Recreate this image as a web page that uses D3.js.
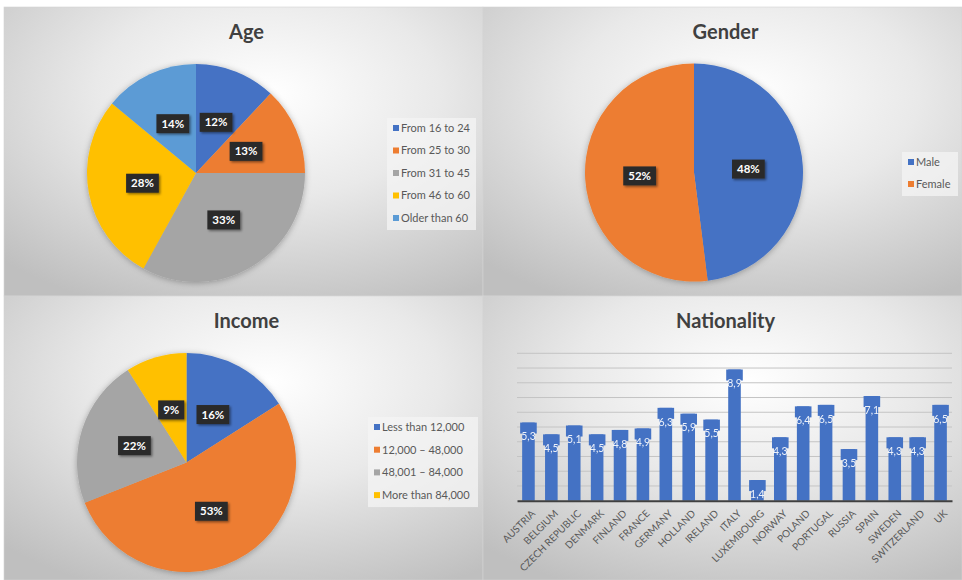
<!DOCTYPE html>
<html>
<head>
<meta charset="utf-8">
<script src="https://cdn.jsdelivr.net/npm/d3@7"></script>
<style>
  html, body { margin: 0; padding: 0; background: #fff; }
  svg { display: block; font-family: Lato, "Noto Sans", sans-serif; }
</style>
</head>
<body>
<script>
// pie data
const ageLabels = ["From 16 to 24", "From 25 to 30", "From 31 to 45", "From 46 to 60", "Older than 60"];
const ageValues = [12, 13, 33, 28, 14];

const genderLabels = ["Male", "Female"];
const genderValues = [48, 52];

const incomeLabels = ["Less than 12,000", "12,000 – 48,000", "48,001 – 84,000", "More than 84,000"];
const incomeValues = [16, 53, 22, 9];

// bar data
const countries = ["AUSTRIA", "BELGIUM", "CZECH REPUBLIC", "DENMARK", "FINLAND", "FRANCE", "GERMANY",
  "HOLLAND", "IRELAND", "ITALY", "LUXEMBOURG", "NORWAY", "POLAND", "PORTUGAL", "RUSSIA", "SPAIN",
  "SWEDEN", "SWITZERLAND", "UK"];
const nationalityValues = [5.3, 4.5, 5.1, 4.5, 4.8, 4.9, 6.3, 5.9, 5.5, 8.9, 1.4, 4.3, 6.4, 6.5, 3.5, 7.1, 4.3, 4.3, 6.5];
const gridValues = [1, 2, 3, 4, 5, 6, 7, 8, 9, 10];

// office palette
const palette = ["#4472C4", "#ED7D31", "#A5A5A5", "#FFC000", "#5B9BD5"];

const W = 962, H = 580;

const svg = d3.select('body').append('svg')
  .attr('width', W)
  .attr('height', H);

const defs = svg.append('defs');
const grad = defs.append('radialGradient')
  .attr('id', 'bg')
  .attr('cx', '55%').attr('cy', '30%').attr('r', '80%');
grad.append('stop').attr('offset', '0%').attr('stop-color', '#ffffff');
grad.append('stop').attr('offset', '45%').attr('stop-color', '#e9e9e9');
grad.append('stop').attr('offset', '100%').attr('stop-color', '#bfbfbf');

const pieShadow = defs.append('filter').attr('id', 'pieShadow')
  .attr('x', '-20%').attr('y', '-20%').attr('width', '140%').attr('height', '140%');
pieShadow.append('feDropShadow').attr('dx', 0).attr('dy', 1).attr('stdDeviation', 3)
  .attr('flood-color', '#000').attr('flood-opacity', 0.3);

const boxShadow = defs.append('filter').attr('id', 'boxShadow')
  .attr('x', '-30%').attr('y', '-30%').attr('width', '160%').attr('height', '160%');
boxShadow.append('feDropShadow').attr('dx', 1.5).attr('dy', 1.5).attr('stdDeviation', 1)
  .attr('flood-color', '#000').attr('flood-opacity', 0.45);

// four panels
const panels = [
  { x: 4, y: 7, w: 479, h: 289, title: "Age" },
  { x: 483, y: 7, w: 479, h: 289, title: "Gender" },
  { x: 4, y: 296, w: 479, h: 284, title: "Income" },
  { x: 483, y: 296, w: 479, h: 284, title: "Nationality" }
];

panels.forEach(p => {
  svg.append('rect')
    .attr('x', p.x).attr('y', p.y)
    .attr('width', p.w).attr('height', p.h)
    .attr('fill', 'url(#bg)')
    .attr('stroke', '#d4d4d4')
    .attr('stroke-width', 0.6);
  svg.append('text')
    .attr('x', p.x + p.w / 2 + 3)
    .attr('y', p.y + 32)
    .attr('text-anchor', 'middle')
    .style('font-size', '20px')
    .style('font-weight', 'bold')
    .style('fill', '#404040')
    .text(p.title);
});

function drawPie(cx, cy, r, labels, values, lg) {
  const g = svg.append('g').attr('transform', `translate(${cx},${cy})`);
  const pie = d3.pie().sort(null).value(d => d)(values);
  const arc = d3.arc().innerRadius(0).outerRadius(r);
  const labelArc = d3.arc().innerRadius(r * 0.5).outerRadius(r * 0.5);

  g.append('g').attr('filter', 'url(#pieShadow)')
    .selectAll('path').data(pie)
    .enter().append('path')
    .attr('d', arc)
    .attr('fill', (d, i) => palette[i]);

  const lab = g.selectAll('g.lab').data(pie)
    .enter().append('g')
    .attr('class', 'lab')
    .attr('transform', d => `translate(${labelArc.centroid(d)})`);

  lab.each(function (d) {
    const el = d3.select(this);
    const t = el.append('text')
      .attr('text-anchor', 'middle')
      .attr('dy', '0.35em')
      .style('font-size', '11.5px')
      .style('font-weight', 'bold')
      .style('fill', '#fff')
      .text(d.data + '%');
    const bb = t.node().getBBox();
    el.insert('rect', 'text')
      .attr('x', bb.x - 5).attr('y', -9.5)
      .attr('width', bb.width + 10).attr('height', 19)
      .attr('fill', '#2b2b2b')
      .attr('filter', 'url(#boxShadow)');
  });

  // legend
  const lgG = svg.append('g');
  lgG.append('rect')
    .attr('x', lg.x).attr('y', lg.y - 10)
    .attr('width', lg.w).attr('height', lg.step * (labels.length - 1) + 22)
    .attr('fill', '#f4f4f4').attr('opacity', 0.75);
  const items = lgG.selectAll('g.item').data(labels)
    .enter().append('g')
    .attr('class', 'item')
    .attr('transform', (d, i) => `translate(${lg.x},${lg.y + i * lg.step})`);
  items.append('rect')
    .attr('x', 6).attr('y', -3)
    .attr('width', 6).attr('height', 6)
    .attr('fill', (d, i) => palette[i]);
  items.append('text')
    .attr('x', 14).attr('dy', '0.35em')
    .style('font-size', '11px')
    .style('fill', '#595959')
    .text(d => d);
}

drawPie(196, 173, 109, ageLabels, ageValues, { x: 387, y: 128, step: 22.5, w: 89 });
drawPie(694, 172.5, 109, genderLabels, genderValues, { x: 902, y: 162, step: 22, w: 56 });
drawPie(186.5, 462.5, 109.5, incomeLabels, incomeValues, { x: 368, y: 427, step: 22.7, w: 110 });

// nationality bars
const x = d3.scaleBand()
  .domain(countries)
  .range([517, 952])
  .paddingInner(0.45)
  .paddingOuter(0.225);
const y = d3.scaleLinear()
  .domain([0, 10])
  .range([500.7, 353.3]);

const bars = svg.append('g');
bars.selectAll('line.grid').data(gridValues)
  .enter().append('line')
  .attr('class', 'grid')
  .attr('x1', 517).attr('x2', 952)
  .attr('y1', d => y(d)).attr('y2', d => y(d))
  .attr('stroke', '#c4c4c4')
  .attr('stroke-width', 1);

bars.selectAll('rect.bar').data(nationalityValues)
  .enter().append('rect')
  .attr('class', 'bar')
  .attr('x', (d, i) => x(countries[i]))
  .attr('y', d => y(d))
  .attr('width', x.bandwidth())
  .attr('height', d => y(0) - y(d))
  .attr('fill', '#4472C4');

// label boxes sit on bar tops, a bit wider than the bar
bars.selectAll('rect.lbox').data(nationalityValues)
  .enter().append('rect')
  .attr('class', 'lbox')
  .attr('x', (d, i) => x(countries[i]) - 2)
  .attr('y', d => y(d))
  .attr('width', x.bandwidth() + 4)
  .attr('height', 11)
  .attr('fill', '#4472C4');

const fmt = d => d3.format('.1f')(d).replace('.', ',');
bars.selectAll('text.val').data(nationalityValues)
  .enter().append('text')
  .attr('class', 'val')
  .attr('x', (d, i) => x(countries[i]) + x.bandwidth() / 2)
  .attr('y', d => y(d) + 14)
  .attr('dy', '0.35em')
  .attr('text-anchor', 'middle')
  .style('font-size', '10.5px')
  .style('fill', '#fff')
  .style('opacity', 0.9)
  .text(fmt);

const xAxis = d3.axisBottom(x).tickSize(0).tickPadding(0);
const axisG = svg.append('g')
  .attr('transform', `translate(0,${y(0)})`)
  .call(xAxis);
axisG.select('.domain')
  .attr('stroke', '#404040')
  .attr('stroke-width', 2);
axisG.selectAll('.tick text')
  .attr('text-anchor', 'end')
  .attr('transform', 'translate(5,11) rotate(-45)')
  .attr('y', 0)
  .attr('dy', '0.35em')
  .style('font-family', 'Lato, "Noto Sans", sans-serif')
  .style('font-size', '10px')
  .style('fill', '#595959');
</script>
</body>
</html>
